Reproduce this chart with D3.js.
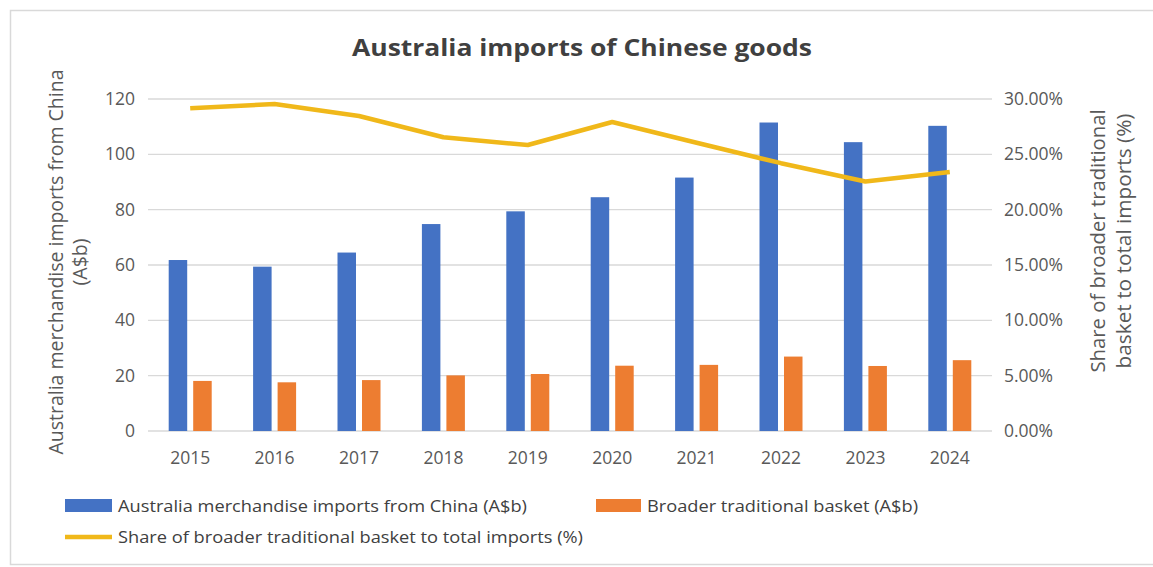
<!DOCTYPE html>
<meta charset="utf-8">
<head>
    <script src="https://d3js.org/d3.v7.min.js"></script>
    <style>
        body { margin: 0; background: white; }
        text { font-family: "Open Sans", "Noto Sans", sans-serif; }
    </style>
</head>
<body>
<div id="chart"></div>
<script>
    // chart data
    var years = ["2015", "2016", "2017", "2018", "2019", "2020", "2021", "2022", "2023", "2024"];
    var totalImports = [61.8, 59.4, 64.5, 74.8, 79.4, 84.5, 91.6, 111.5, 104.4, 110.3];
    var basketImports = [18.1, 17.6, 18.4, 20.1, 20.6, 23.6, 23.9, 26.9, 23.5, 25.6];
    var basketShare = [0.2916, 0.2955, 0.2846, 0.2654, 0.2584, 0.2792, 0.2605, 0.2420, 0.2255, 0.2340];
    var leftTicks = [0, 20, 40, 60, 80, 100, 120];
    var rightTicks = [0, 0.05, 0.10, 0.15, 0.20, 0.25, 0.30];
    var seriesNames = ["Australia merchandise imports from China (A$b)",
        "Broader traditional basket (A$b)",
        "Share of broader traditional basket to total imports (%)"];

    var width = 1153, height = 567;
    var margin = { top: 99, right: 161, bottom: 136, left: 148 };

    var svg = d3.select("#chart").append("svg")
        .attr("width", width)
        .attr("height", height);

    // outer frame
    svg.append("rect")
        .attr("x", 10.5).attr("y", 10.5)
        .attr("width", 1160).attr("height", 554)
        .attr("fill", "none")
        .attr("stroke", "#d9d9d9")
        .attr("stroke-width", 1.5);

    var x = d3.scaleBand()
        .domain(years)
        .range([margin.left, width - margin.right]);

    var yLeft = d3.scaleLinear()
        .domain([0, 120])
        .range([height - margin.bottom, margin.top]);

    var yRight = d3.scaleLinear()
        .domain([0, 0.30])
        .range([height - margin.bottom, margin.top]);

    var barW = 18.5, gap = 6;

    // gridlines
    svg.append("g")
        .selectAll("line")
        .data(leftTicks)
        .enter()
        .append("line")
        .attr("x1", margin.left)
        .attr("x2", width - margin.right)
        .attr("y1", function(d) { return yLeft(d); })
        .attr("y2", function(d) { return yLeft(d); })
        .attr("stroke", "#d9d9d9")
        .attr("stroke-width", 1.3);

    // left axis labels
    svg.append("g")
        .selectAll("text")
        .data(leftTicks)
        .enter()
        .append("text")
        .attr("x", 135)
        .attr("y", function(d) { return yLeft(d); })
        .attr("dy", "0.35em")
        .attr("text-anchor", "end")
        .attr("fill", "#595959")
        .style("font-size", "17.5px")
        .text(function(d) { return d; });

    // right axis labels
    svg.append("g")
        .selectAll("text")
        .data(rightTicks)
        .enter()
        .append("text")
        .attr("x", 1004)
        .attr("y", function(d) { return yRight(d); })
        .attr("dy", "0.35em")
        .attr("text-anchor", "start")
        .attr("fill", "#595959")
        .style("font-size", "17.5px")
        .text(function(d) { return d3.format(".2%")(d); });

    // x labels
    svg.append("g")
        .selectAll("text")
        .data(years)
        .enter()
        .append("text")
        .attr("x", function(d) { return x(d) + x.bandwidth() / 2; })
        .attr("y", 458)
        .attr("dy", "0.35em")
        .attr("text-anchor", "middle")
        .attr("fill", "#595959")
        .style("font-size", "17.5px")
        .text(function(d) { return d; });

    // blue bars
    svg.append("g")
        .selectAll("rect")
        .data(totalImports)
        .enter()
        .append("rect")
        .attr("x", function(d, i) { return x(years[i]) + x.bandwidth() / 2 - gap / 2 - barW; })
        .attr("y", function(d) { return yLeft(d); })
        .attr("width", barW)
        .attr("height", function(d) { return yLeft(0) - yLeft(d); })
        .attr("fill", "#4472c4");

    // orange bars
    svg.append("g")
        .selectAll("rect")
        .data(basketImports)
        .enter()
        .append("rect")
        .attr("x", function(d, i) { return x(years[i]) + x.bandwidth() / 2 + gap / 2; })
        .attr("y", function(d) { return yLeft(d); })
        .attr("width", barW)
        .attr("height", function(d) { return yLeft(0) - yLeft(d); })
        .attr("fill", "#ed7d31");

    // share line
    var line = d3.line()
        .x(function(d, i) { return x(years[i]) + x.bandwidth() / 2; })
        .y(function(d) { return yRight(d); });

    svg.append("path")
        .datum(basketShare)
        .attr("d", line)
        .attr("fill", "none")
        .attr("stroke", "#f0b81a")
        .attr("stroke-width", 4.5)
        .attr("stroke-linejoin", "round");

    // title
    svg.append("text")
        .attr("x", 582)
        .attr("y", 48)
        .attr("dy", "0.35em")
        .attr("text-anchor", "middle")
        .attr("fill", "#404040")
        .attr("textLength", 460)
        .attr("lengthAdjust", "spacingAndGlyphs")
        .style("font-size", "24px")
        .style("font-weight", "bold")
        .text("Australia imports of Chinese goods");

    // left axis title
    var lt = svg.append("text")
        .attr("transform", "translate(56,262) rotate(-90)")
        .attr("text-anchor", "middle")
        .attr("fill", "#595959")
        .style("font-size", "19.5px");
    lt.append("tspan").attr("x", 0).attr("dy", "0.35em").attr("textLength", 385)
        .attr("lengthAdjust", "spacingAndGlyphs").text("Australia merchandise imports from China");
    lt.append("tspan").attr("x", 0).attr("dy", "1.25em").text("(A$b)");

    // right axis title
    var rt = svg.append("text")
        .attr("transform", "translate(1098,241) rotate(-90)")
        .attr("text-anchor", "middle")
        .attr("fill", "#595959")
        .style("font-size", "19.5px");
    rt.append("tspan").attr("x", 0).attr("dy", "0.35em").attr("textLength", 263)
        .attr("lengthAdjust", "spacingAndGlyphs").text("Share of broader traditional");
    rt.append("tspan").attr("x", 0).attr("dy", "1.35em").attr("textLength", 255)
        .attr("lengthAdjust", "spacingAndGlyphs").text("basket to total imports (%)");

    // legend
    svg.append("rect")
        .attr("x", 65).attr("y", 499)
        .attr("width", 47).attr("height", 13)
        .attr("fill", "#4472c4");
    svg.append("text")
        .attr("x", 118).attr("y", 506)
        .attr("dy", "0.35em")
        .attr("fill", "#404040")
        .attr("textLength", 409)
        .attr("lengthAdjust", "spacingAndGlyphs")
        .style("font-size", "16.5px")
        .text(seriesNames[0]);

    svg.append("rect")
        .attr("x", 596).attr("y", 499)
        .attr("width", 45).attr("height", 13)
        .attr("fill", "#ed7d31");
    svg.append("text")
        .attr("x", 647).attr("y", 506)
        .attr("dy", "0.35em")
        .attr("fill", "#404040")
        .attr("textLength", 271)
        .attr("lengthAdjust", "spacingAndGlyphs")
        .style("font-size", "16.5px")
        .text(seriesNames[1]);

    svg.append("line")
        .attr("x1", 65).attr("x2", 112)
        .attr("y1", 537).attr("y2", 537)
        .attr("stroke", "#f0b81a")
        .attr("stroke-width", 4.5);
    svg.append("text")
        .attr("x", 118).attr("y", 537)
        .attr("dy", "0.35em")
        .attr("fill", "#404040")
        .attr("textLength", 465)
        .attr("lengthAdjust", "spacingAndGlyphs")
        .style("font-size", "16.5px")
        .text(seriesNames[2]);
</script>
</body>
</html>
